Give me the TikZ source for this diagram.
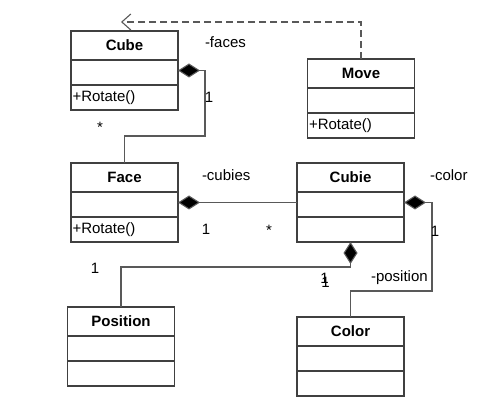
\documentclass[tikz,border=0pt]{standalone}
\usepackage{fontspec}
\setmainfont{Liberation Sans}
\usetikzlibrary{arrows.meta,calc}
\newcommand\umlclass[5]{%
  \node[umlbox, anchor=north] (#1) at (#2,#3) {};
  \node[titletext] (#1T) at ($(#1.north)+(0,14.5)$) {#4};
  \draw[boxline] ($(#1.north west)+(0,29)$) -- ($(#1.north east)+(0,29)$);
  \draw[boxline] ($(#1.north west)+(0,54)$) -- ($(#1.north east)+(0,54)$);
  \node[anchor=west] (#1O) at ($(#1.south west)+(1.5,-12.5)$) {#5};
}
\begin{document}
\begin{tikzpicture}[x=1pt,y=-1pt,
  every node/.style={font=\fontsize{15}{18}\selectfont, inner sep=0pt, outer sep=0pt},
  boxline/.style={draw=black!75, line width=1.1pt},
  umlbox/.style={boxline, rectangle, minimum width=107pt, minimum height=79pt},
  titletext/.style={font=\fontsize{15}{18}\selectfont\bfseries},
  ln/.style={draw=black!65, line width=1.1pt},
  comp/.style={ln, {Diamond[length=22pt,width=14pt,fill=black]}-},
]
\useasboundingbox[fill=white] (0,0) rectangle (492,411);

\umlclass{cube}{124.5}{31}{Cube}{+Rotate()}
\umlclass{move}{361}{59}{Move}{+Rotate()}
\umlclass{face}{124.5}{163}{Face}{+Rotate()}
\umlclass{cubie}{350.5}{163}{Cubie}{}
\umlclass{position}{121}{307}{Position}{}
\umlclass{color}{350.5}{317}{Color}{}

% generalization (dashed)
\coordinate (tip) at (121,22);
\draw[ln, dash pattern=on 7pt off 4pt, -{Straight Barb[length=9pt,width=16pt]}] (move.north) |- (tip);

% compositions
\draw[comp] (cube.east) -- ++(27,0) |- ($(face.north)+(0,-27)$) -- (face.north);
\draw[comp] (face.east) -- (cubie.west);
\draw[comp] (cubie.east) -- ++(28,0) |- ($(color.north)+(0,-26)$) -- (color.north);
\draw[comp] (cubie.south) -- ++(0,25) -| (position.north);

% labels
\node[anchor=west] (lfaces) at (205,42) {-faces};
\node (m1) at (209,97) {1};
\node (m2) at (100,127) {*};
\node[anchor=west] (lcubies) at (202,175) {-cubies};
\node (m3) at (206,229) {1};
\node (m4) at (269,230) {*};
\node[anchor=west] (lcolor) at (430,175) {-color};
\node (m5) at (435,231) {1};
\node[anchor=west] (lposition) at (371,278) {-position};
\node (m6) at (95,268) {1};
\node (m7) at (324.5,278) {1};
\node (m8) at (325.5,282) {1};
\end{tikzpicture}
\end{document}
